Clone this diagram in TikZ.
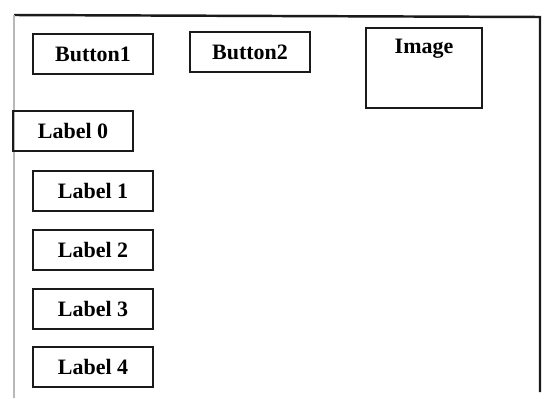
\documentclass[tikz,border=0pt]{standalone}
\usepackage{fontspec}
\setmainfont{Liberation Serif}
\usepackage{tikz}
\usetikzlibrary{positioning}
\definecolor{Ink}{HTML}{1A1A1A}
\definecolor{EdgeGrey}{HTML}{B8B8B8}

\begin{document}
\begin{tikzpicture}[
  x=1cm,y=1cm,
  font=\bfseries\fontsize{12.5}{14}\selectfont,
  frame/.style={draw=Ink,line width=1.4pt},
  widget/.style={draw=Ink,line width=1.2pt,minimum width=2.4cm,
    minimum height=0.8cm,inner sep=2pt,align=center}
]
  \useasboundingbox[fill=white] (0,0) rectangle (10.94,7.96);

  % window frame
  \draw[frame] (0.28,7.66) -- (10.80,7.62) -- (10.80,0.12);
  \draw[EdgeGrey,line width=0.8pt] (0.28,7.66) -- (0.28,0.00);

  \node[widget] (button1) at (1.86,6.88) {Button1};
  \node[widget] (button2) at (5.00,6.92) {Button2};
  \node[widget,minimum width=2.32cm,minimum height=1.6cm,
    label={[anchor=north,yshift=-0.12cm]north:Image}] (image) at (8.48,6.60) {};

  \node[widget] (label0) at (1.46,5.34) {Label 0};
  \foreach \i/\y in {1/4.14,2/2.96,3/1.78,4/0.62}
    \node[widget] (label\i) at (1.86,\y) {Label \i};
\end{tikzpicture}
\end{document}
